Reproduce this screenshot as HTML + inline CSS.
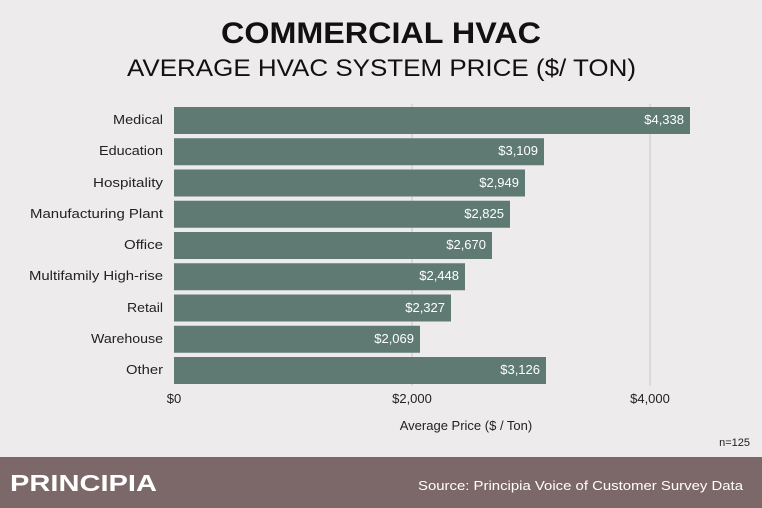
<!DOCTYPE html>
<html><head><meta charset="utf-8"><style>
body{margin:0;background:#edebeb;}
svg{display:block;font-family:"Liberation Sans",sans-serif;}
</style></head><body>
<svg width="762" height="508" viewBox="0 0 762 508">
<rect width="762" height="508" fill="#edebeb"/>
<text x="221" y="43" font-size="30" font-weight="bold" fill="#111" textLength="320" lengthAdjust="spacingAndGlyphs">COMMERCIAL HVAC</text>
<text x="127" y="76" font-size="24" fill="#111" textLength="509" lengthAdjust="spacingAndGlyphs">AVERAGE HVAC SYSTEM PRICE ($/ TON)</text>
<line x1="412" y1="104" x2="412" y2="386" stroke="#c8c6c6" stroke-width="1"/>
<line x1="650" y1="104" x2="650" y2="386" stroke="#c8c6c6" stroke-width="1"/>
<g fill="#5e7a72">
<rect x="174" y="107" width="516" height="27"/>
<rect x="174" y="138.25" width="370" height="27"/>
<rect x="174" y="169.5" width="351" height="27"/>
<rect x="174" y="200.75" width="336" height="27"/>
<rect x="174" y="232" width="318" height="27"/>
<rect x="174" y="263.25" width="291" height="27"/>
<rect x="174" y="294.5" width="277" height="27"/>
<rect x="174" y="325.75" width="246" height="27"/>
<rect x="174" y="357" width="372" height="27"/>
</g>
<g font-size="13" fill="#222" text-anchor="end">
<text x="163" y="124" textLength="50" lengthAdjust="spacingAndGlyphs">Medical</text>
<text x="163" y="155" textLength="64" lengthAdjust="spacingAndGlyphs">Education</text>
<text x="163" y="187" textLength="70" lengthAdjust="spacingAndGlyphs">Hospitality</text>
<text x="163" y="218" textLength="133" lengthAdjust="spacingAndGlyphs">Manufacturing Plant</text>
<text x="163" y="249" textLength="39" lengthAdjust="spacingAndGlyphs">Office</text>
<text x="163" y="280" textLength="134" lengthAdjust="spacingAndGlyphs">Multifamily High-rise</text>
<text x="163" y="312" textLength="36" lengthAdjust="spacingAndGlyphs">Retail</text>
<text x="163" y="343" textLength="72" lengthAdjust="spacingAndGlyphs">Warehouse</text>
<text x="163" y="374" textLength="37" lengthAdjust="spacingAndGlyphs">Other</text>
</g>
<g font-size="13" fill="#fff" text-anchor="end">
<text x="684" y="124">$4,338</text>
<text x="538" y="155">$3,109</text>
<text x="519" y="187">$2,949</text>
<text x="504" y="218">$2,825</text>
<text x="486" y="249">$2,670</text>
<text x="459" y="280">$2,448</text>
<text x="445" y="312">$2,327</text>
<text x="414" y="343">$2,069</text>
<text x="540" y="374">$3,126</text>
</g>
<g font-size="13" fill="#222" text-anchor="middle">
<text x="174" y="403">$0</text>
<text x="412" y="403">$2,000</text>
<text x="650" y="403">$4,000</text>
<text x="466" y="430">Average Price ($ / Ton)</text>
</g>
<text x="750" y="446" font-size="11" fill="#222" text-anchor="end">n=125</text>
<rect x="0" y="457" width="762" height="51" fill="#7c6868"/>
<text x="10" y="491" font-size="23" font-weight="bold" fill="#fff" textLength="147" lengthAdjust="spacingAndGlyphs">PRINCIPIA</text>
<text x="418" y="490" font-size="13" fill="#fff" textLength="325" lengthAdjust="spacingAndGlyphs">Source: Principia Voice of Customer Survey Data</text>
</svg>
</body></html>
